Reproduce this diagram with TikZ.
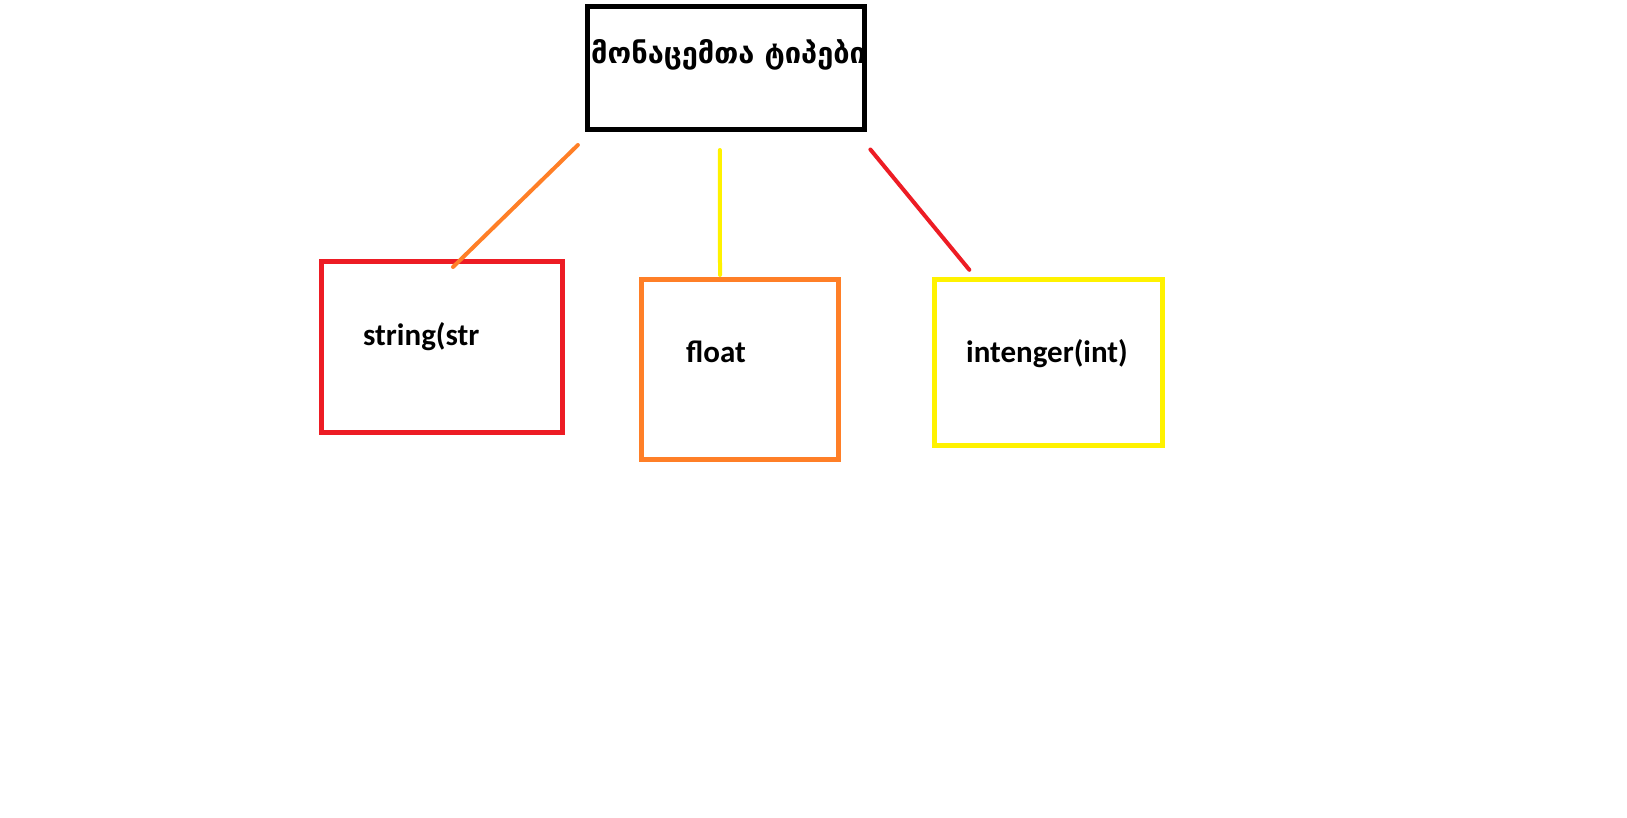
\documentclass[tikz,border=0pt]{standalone}
\usepackage{fontspec}
\newfontfamily\geofont{DejaVu Sans}
\newfontfamily\lblfont{Carlito}
\usetikzlibrary{calc}
\definecolor{paintred}{HTML}{ED1C24}
\definecolor{paintorange}{HTML}{FF7F27}
\definecolor{paintyellow}{HTML}{FFF200}

\begin{document}
\begin{tikzpicture}[x=1pt, y=-1pt,
  typebox/.style={draw, line width=5pt, outer sep=0pt, inner sep=0pt},
  link/.style={line width=4pt, line cap=round},
  lbl/.style={inner sep=0pt, anchor=base west,
    font=\lblfont\bfseries\fontsize{31}{37}\selectfont},
]
  \fill[white] (0,0) rectangle (1627,818);
  \useasboundingbox (0,0) rectangle (1627,818);

  % boxes
  \node[typebox, minimum width=277pt, minimum height=123pt] (title)
    at (725.9,68) {};
  \node[typebox, draw=paintred, minimum width=241pt, minimum height=171pt]
    (str) at (442,347) {};
  \node[typebox, draw=paintorange, minimum width=197pt, minimum height=179pt]
    (flt) at (740,369.5) {};
  \node[typebox, draw=paintyellow, minimum width=228pt, minimum height=165pt]
    (int) at (1048.6,362.5) {};

  % texts
  \node[inner sep=0pt, anchor=base west,
    font=\geofont\bfseries\fontsize{29}{34}\selectfont] (titlelbl)
    at (591,64) {მონაცემთა ტიპები};
  \node[lbl] (strlbl) at (363,345) {string(str};
  \node[lbl] (fltlbl) at (686,362) {float};
  \node[lbl] (intlbl) at (966,362) {intenger(int)};

  % links
  \draw[link, paintorange] ($(title.south west)+(-9.5,15.5)$)
    -- ($(str.north)+(11,5.5)$);
  \draw[link, paintyellow] ($(title.south)+(-6,20.5)$)
    -- ($(flt.north)+(-20,-5)$);
  \draw[link, paintred] ($(title.south east)+(6,20)$)
    -- ($(int.north)+(-79.3,-10.2)$);
\end{tikzpicture}
\end{document}
